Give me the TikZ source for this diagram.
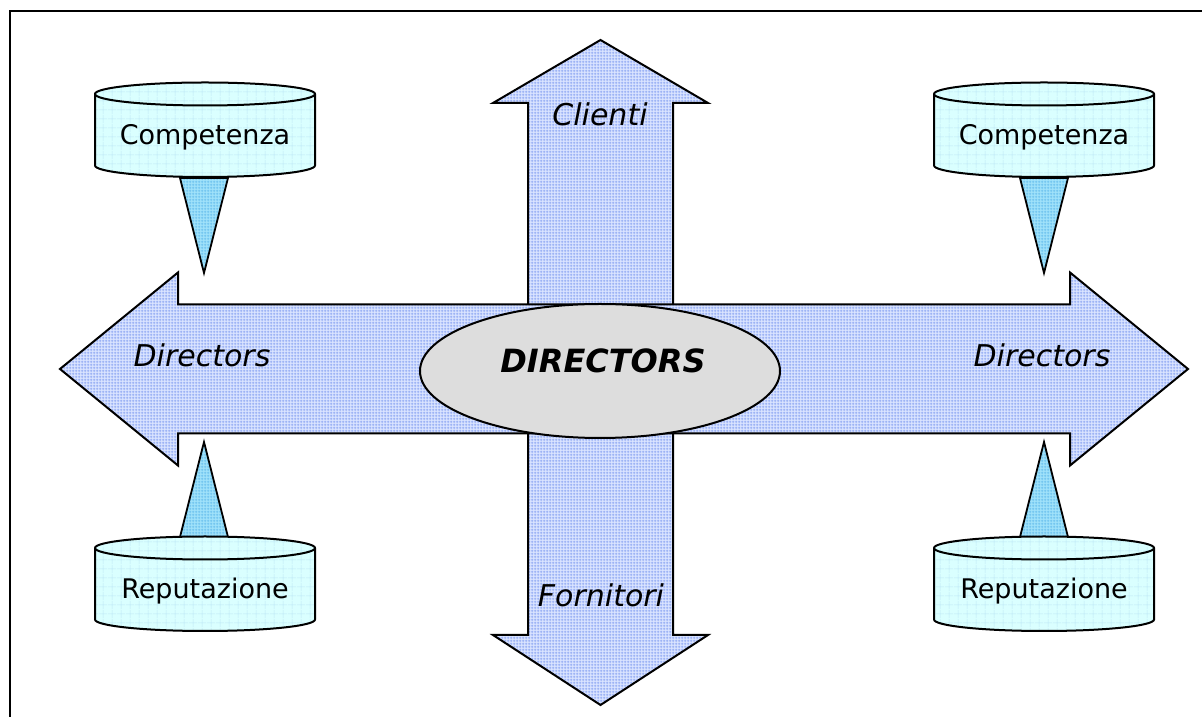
\documentclass[tikz,border=0pt]{standalone}
\usepackage{fontspec}
\setmainfont{DejaVu Sans}
\usetikzlibrary{shapes.geometric,patterns}
\definecolor{arrowBase}{RGB}{218,228,255}
\definecolor{arrowGrid}{RGB}{125,155,240}
\definecolor{cylBase}{RGB}{218,255,255}
\definecolor{cylGrid}{RGB}{190,232,246}
\definecolor{coneBase}{RGB}{160,226,250}
\definecolor{coneGrid}{RGB}{95,185,235}
\definecolor{hubGray}{RGB}{221,221,221}

% fine mesh used by the shapes
\pgfdeclarepatternformonly{finegrid}{\pgfpointorigin}{\pgfpoint{3pt}{3pt}}{\pgfpoint{3pt}{3pt}}{%
  \pgfsetlinewidth{0.8pt}%
  \pgfpathmoveto{\pgfpoint{0pt}{1.5pt}}\pgfpathlineto{\pgfpoint{3pt}{1.5pt}}%
  \pgfpathmoveto{\pgfpoint{1.5pt}{0pt}}\pgfpathlineto{\pgfpoint{1.5pt}{3pt}}%
  \pgfusepath{stroke}}
\pgfdeclarepatternformonly{widegrid}{\pgfpointorigin}{\pgfpoint{9pt}{9pt}}{\pgfpoint{9pt}{9pt}}{%
  \pgfsetlinewidth{0.6pt}%
  \pgfpathmoveto{\pgfpoint{0pt}{4.5pt}}\pgfpathlineto{\pgfpoint{9pt}{4.5pt}}%
  \pgfpathmoveto{\pgfpoint{4.5pt}{0pt}}\pgfpathlineto{\pgfpoint{4.5pt}{9pt}}%
  \pgfusepath{stroke}}

\begin{document}
\begin{tikzpicture}[x=1pt,y=1pt,
  arrowshape/.style={draw=black,line width=2pt,line join=miter,
    preaction={fill=arrowBase},preaction={pattern=finegrid,pattern color=arrowGrid}},
  cylshape/.style={draw=black,line width=2pt,
    preaction={fill=cylBase},preaction={pattern=widegrid,pattern color=cylGrid}},
  coneshape/.style={draw=black,line width=1.8pt,line join=miter,
    preaction={fill=coneBase},preaction={pattern=finegrid,pattern color=coneGrid}},
  hub/.style={ellipse,draw=black,line width=2pt,fill=hubGray,
    minimum width=360pt,minimum height=134pt,inner sep=0pt},
  cyltext/.style={font=\fontsize{27}{30}\selectfont},
  flowtext/.style={font=\fontsize{30}{34}\selectfont\itshape},
  hubtext/.style={font=\fontsize{32}{36}\selectfont\bfseries\itshape}]

\useasboundingbox (0,0) rectangle (1202,717);

% Frame (cut by the page on the right and bottom)
\draw[line width=2.5pt] (10,0) -- (10,706) -- (1202,706);

% Vertical arrow: clients up, suppliers down
\draw[arrowshape] (600.5,677) -- (708,614) -- (673,614) -- (673,82) -- (708,82)
  -- (600.5,12) -- (493,82) -- (528,82) -- (528,614) -- (493,614) -- cycle;

% Horizontal double arrow
\draw[arrowshape] (60,348) -- (178,444.5) -- (178,412.5) -- (1070,412.5) -- (1070,444.5)
  -- (1188,348) -- (1070,251.5) -- (1070,283.5) -- (178,283.5) -- (178,251.5) -- cycle;

% Central ellipse
\node[hub] (hub) at (600,346) {};
\node[hubtext] (hubLabel) at (603,356) {DIRECTORS};

% Arrow labels
\node[flowtext] (clienti) at (600,603) {Clienti};
\node[flowtext] (fornitori) at (601,122) {Fornitori};
\node[flowtext] (dirLeft) at (202,362) {Directors};
\node[flowtext] (dirRight) at (1042,362) {Directors};

% Cones pointing at the horizontal arrow
\foreach \cx in {204,1044} {
  \draw[coneshape] (\cx-24,539) -- (\cx+24,539) -- (\cx,444) -- cycle;
  \draw[coneshape] (\cx-24,180) -- (\cx+24,180) -- (\cx,275) -- cycle;
}

% Cylinders
\foreach \cx/\ty/\txt in {205/623/Competenza,1044/623/Competenza,205/169/Reputazione,1044/169/Reputazione} {
  \draw[cylshape] (\cx-110,\ty) -- (\cx-110,\ty-71.5)
    arc[start angle=180,end angle=360,x radius=110,y radius=11.5]
    -- (\cx+110,\ty) arc[start angle=0,end angle=180,x radius=110,y radius=11.5] -- cycle;
  \draw[line width=2pt] (\cx-110,\ty) arc[start angle=180,end angle=360,x radius=110,y radius=11.5];
  \node[cyltext] (\txt-\cx) at (\cx,\ty-43) {\txt};
}

\end{tikzpicture}
\end{document}
